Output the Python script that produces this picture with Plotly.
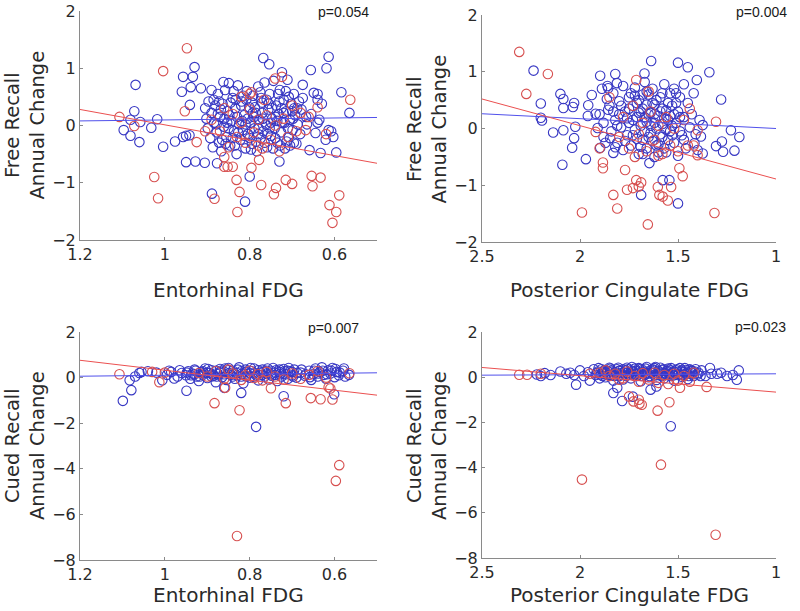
import plotly.graph_objects as go

# ---------------- data ----------------
# Panel A: Entorhinal FDG vs Free Recall annual change
ent_free_blue = [
    (1.069,0.71),(1.072,0.25),(1.081,0.10),(1.058,0.06),(1.097,-0.08),(1.081,-0.18),(1.060,-0.29),
    (1.032,-0.04),(1.018,0.11),(1.004,-0.37),(0.976,-0.28),(0.957,-0.20),(0.950,-0.18),(0.942,-0.17),
    (0.950,-0.64),(0.906,-0.65),(0.930,1.02),(0.957,0.85),(0.934,0.85),(0.939,0.67),(0.960,0.59),
    (0.915,0.65),(0.941,0.36),(0.890,0.62),(0.862,0.76),(0.889,-1.19),(0.877,-0.66),(0.928,-0.63),
    (0.811,-1.33),(0.800,-0.89),
    (0.905,0.30),(0.902,0.12),(0.899,-0.05),(0.897,0.42),(0.893,-0.22),(0.890,0.22),(0.887,-0.38),
    (0.884,0.05),(0.881,0.35),(0.878,-0.12),(0.875,0.55),(0.872,-0.30),(0.870,0.15),(0.867,-0.45),
    (0.864,0.38),(0.861,-0.02),(0.858,0.62),(0.855,-0.20),(0.852,0.25),(0.849,0.74),(0.846,-0.35),
    (0.843,0.08),(0.840,0.48),(0.837,-0.10),(0.834,0.30),(0.831,-0.50),(0.828,0.70),(0.825,0.02),
    (0.822,-0.25),(0.819,0.42),(0.816,-0.08),(0.813,0.18),(0.810,-0.40),(0.807,0.60),(0.804,-0.15),
    (0.801,0.32),(0.798,0.05),(0.795,-0.32),(0.792,0.52),(0.789,-0.05),(0.786,0.22),(0.783,-0.45),
    (0.780,0.68),(0.777,0.10),(0.774,-0.22),(0.771,0.40),(0.768,-0.10),(0.765,0.75),(0.762,0.02),
    (0.759,-0.38),(0.756,0.28),(0.753,0.55),(0.750,-0.18),(0.747,0.12),(0.744,0.78),(0.741,-0.05),
    (0.738,0.35),(0.735,-0.30),(0.732,0.20),(0.729,0.62),(0.726,-0.12),(0.723,0.05),(0.720,0.45),
    (0.717,-0.40),(0.714,0.25),(0.711,0.80),(0.708,-0.20),(0.705,0.10),(0.702,0.38),(0.699,-0.08),
    (0.696,0.55),(0.693,0.18),(0.690,-0.32),(0.687,0.02),(0.684,0.42),(0.681,-0.15),(0.678,0.28),
    (0.675,0.48),
    (0.860,0.12),(0.850,-0.05),(0.840,-0.22),(0.830,0.15),(0.820,0.35),(0.810,0.02),(0.800,-0.22),
    (0.790,0.15),(0.780,-0.15),(0.770,0.22),(0.760,0.45),(0.750,0.05),(0.740,-0.22),(0.730,0.42),
    (0.720,0.22),(0.710,-0.05),(0.700,0.25),(0.875,0.20),(0.865,-0.25),(0.845,0.40),(0.835,-0.35),
    (0.815,0.52),(0.805,0.12),(0.795,0.40),(0.785,-0.28),(0.775,0.58),(0.765,-0.30),(0.755,0.38),
    (0.745,-0.40),(0.735,0.08),(0.725,0.30),(0.715,0.60),(0.705,-0.35),(0.695,0.30),
    (0.885,0.45),(0.878,0.02),(0.868,0.28),(0.857,-0.32),(0.848,0.18),(0.838,0.60),(0.827,-0.12),
    (0.818,0.08),(0.808,0.45),(0.797,-0.42),(0.788,0.32),(0.779,-0.05),(0.769,0.12),(0.758,-0.15),
    (0.748,0.30),(0.739,0.15),(0.728,-0.35),(0.718,0.05),(0.708,0.50),(0.698,0.12),(0.688,0.30),
    (0.872,0.42),(0.853,0.05),(0.833,0.45),(0.812,-0.18),(0.793,0.22),(0.773,0.48),(0.753,-0.05),
    (0.733,0.55),(0.713,-0.28),
    (0.768,1.18),(0.754,1.07),(0.614,1.20),(0.619,1.00),(0.656,0.97),(0.724,0.93),(0.675,0.71),
    (0.649,0.57),(0.640,0.55),(0.630,0.38),(0.584,0.58),(0.565,0.22),(0.614,-0.08),(0.608,-0.10),
    (0.603,-0.20),(0.596,-0.47),(0.633,-0.48),(0.659,-0.43),(0.645,-0.13),(0.621,-0.25),(0.730,-0.63),
    (0.696,-0.30),(0.665,0.02),(0.655,0.20),(0.640,0.05),(0.667,0.15),(0.636,0.10),(0.640,0.45),
]
ent_free_red = [
    (0.948,1.35),(1.004,0.95),(1.107,0.15),(1.072,-0.01),(1.025,-0.90),(1.016,-1.27),(0.953,0.25),
    (0.925,-0.29),(0.860,-0.72),(0.883,-1.28),(0.563,0.45),(0.589,-1.22),(0.612,-1.39),(0.596,-1.51),
    (0.605,-1.70),(0.654,-0.88),(0.633,-0.91),(0.652,-1.06),(0.700,-1.02),(0.715,-0.95),(0.738,-1.09),
    (0.743,-1.20),(0.773,-1.04),(0.829,-1.51),(0.824,-1.16),(0.831,-0.95),(0.852,-0.72),(0.840,-0.72),
    (0.796,-0.74),(0.778,-0.60),(0.724,0.85),(0.740,0.82),(0.661,0.15),(0.668,-0.08),(0.766,0.45),
    (0.796,0.58),
    (0.890,0.10),(0.870,-0.10),(0.860,0.30),(0.850,-0.38),(0.840,0.20),(0.830,-0.20),(0.820,0.05),
    (0.810,-0.30),(0.800,0.28),(0.790,-0.12),(0.780,0.10),(0.770,-0.40),(0.760,0.18),(0.750,-0.25),
    (0.740,0.00),(0.730,-0.45),(0.720,0.12),(0.710,-0.20),(0.700,0.35),(0.690,-0.10),(0.800,0.55),
    (0.820,0.50),(0.860,-0.55),(0.780,-0.35),(0.680,0.22),(0.640,0.32),(0.620,-0.15),(0.905,-0.10),
]

# Panel B: Posterior Cingulate FDG vs Free Recall annual change
pcc_free_blue = [
    (2.237,1.02),(2.200,0.44),(2.200,0.19),(2.194,0.14),(2.137,-0.07),(2.100,0.61),(2.085,0.52),
    (2.085,0.36),(2.030,0.45),(2.036,0.38),(2.085,-0.03),(2.024,0.03),(2.030,-0.17),(2.040,-0.34),
    (2.090,-0.64),(1.970,-0.54),(1.958,0.41),(1.940,0.59),(1.920,0.26),(1.960,0.22),(1.897,0.93),
    (1.888,0.70),(1.856,0.71),(1.820,0.96),(1.812,0.80),(1.863,0.52),(1.856,0.33),(1.910,0.01),
    (1.880,-0.15),(1.897,-0.34),(1.846,-0.17),(1.820,-0.33),(1.830,-0.43),
    (1.637,1.19),(1.500,1.16),(1.450,1.08),(1.340,0.99),(1.404,0.855),(1.280,0.51),(1.671,0.97),
    (1.230,-0.03),(1.187,-0.15),(1.276,-0.23),(1.212,-0.39),(1.270,-0.41),(1.306,-0.31),
    (1.500,-1.32),(1.688,-1.17),(1.578,-0.91),(1.544,-0.91),(1.646,-0.61),
    (1.390,0.15),(1.374,0.06),(1.383,-0.14),(1.374,-0.44),(1.400,-0.38),(1.416,-0.26),
    (1.850,0.40),(1.840,-0.05),(1.830,0.62),(1.820,0.15),(1.810,-0.25),(1.800,0.48),(1.790,0.02),
    (1.780,0.75),(1.780,-0.38),(1.770,0.30),(1.760,-0.12),(1.750,0.55),(1.750,0.10),(1.740,-0.30),
    (1.730,0.40),(1.720,-0.02),(1.720,0.72),(1.710,0.20),(1.700,-0.45),(1.700,0.50),(1.690,0.05),
    (1.680,-0.20),(1.680,0.35),(1.670,0.82),(1.660,0.12),(1.660,-0.35),(1.650,0.60),(1.640,-0.08),
    (1.640,0.28),(1.630,0.70),(1.620,-0.50),(1.620,0.42),(1.610,0.00),(1.600,0.22),(1.600,-0.28),
    (1.590,0.55),(1.580,0.08),(1.580,-0.15),(1.570,0.78),(1.560,0.32),(1.560,-0.42),(1.550,0.15),
    (1.540,0.62),(1.540,-0.05),(1.530,0.40),(1.520,-0.25),(1.520,0.70),(1.510,0.10),(1.500,-0.48),
    (1.500,0.30),(1.490,0.55),(1.480,-0.12),(1.470,0.20),(1.470,0.78),(1.460,-0.35),(1.450,0.45),
    (1.440,0.02),(1.430,0.25),(1.420,0.62),(1.410,-0.10),
    (1.800,0.25),(1.760,0.18),(1.740,0.62),(1.710,-0.18),(1.690,0.30),(1.670,-0.05),(1.650,0.25),
    (1.630,-0.22),(1.610,0.50),(1.590,-0.10),(1.570,0.18),(1.550,-0.20),(1.530,0.05),(1.510,0.45),
    (1.490,-0.05),(1.730,0.15),(1.660,0.42),(1.620,0.10),(1.580,0.35),(1.560,-0.02),(1.520,0.25),
    (1.640,0.05),(1.700,0.28),(1.600,-0.42),(1.680,0.60),(1.880,0.10),(1.870,-0.25),(1.860,0.75),
    (1.900,0.25),
    (1.830,0.30),(1.810,0.05),(1.790,0.40),(1.770,-0.22),(1.750,0.35),(1.730,-0.12),(1.710,0.45),
    (1.690,-0.32),(1.670,0.20),(1.650,-0.15),(1.630,0.45),(1.610,-0.30),(1.590,0.30),(1.570,-0.35),
    (1.550,0.45),(1.530,-0.12),(1.510,0.62),(1.490,0.20),(1.470,-0.20),(1.720,0.58),(1.660,0.65),
    (1.580,0.62),(1.540,0.22),(1.620,0.25),(1.680,-0.45),
]
pcc_free_red = [
    (2.310,1.35),(2.164,0.96),(2.274,0.61),(1.883,-0.60),(1.883,-0.70),(1.830,-1.17),(1.810,-1.41),
    (1.990,-1.48),(1.920,-0.06),(1.900,-0.35),(1.760,-1.08),(1.770,-0.73),(1.306,0.12),(1.314,-1.49),
    (1.654,-1.69),(1.713,-0.91),(1.688,-0.95),(1.730,-1.05),(1.700,-1.02),(1.603,-1.03),(1.595,-1.17),
    (1.552,-1.27),(1.535,-1.03),(1.578,-1.20),(1.493,-0.70),(1.476,-0.84),(1.420,-0.30),(1.400,-0.47),
    (1.400,-0.03),(1.713,0.855),(1.850,0.55),
    (1.800,-0.15),(1.780,0.20),(1.750,-0.35),(1.730,0.40),(1.700,-0.10),(1.680,0.10),(1.660,-0.40),
    (1.640,0.30),(1.620,-0.20),(1.600,0.05),(1.580,-0.45),(1.560,0.20),(1.540,-0.30),(1.520,0.00),
    (1.500,-0.40),(1.470,0.15),(1.450,-0.30),(1.440,0.35),(1.650,0.65),(1.600,-0.48),(1.720,-0.50),
]

# Panel C: Entorhinal FDG vs Cued Recall annual change
ent_cued_blue = [
    (1.099,-1.02),(1.079,-0.55),(1.083,-0.12),(1.070,0.05),(1.060,0.20),(1.055,0.25),(1.040,0.28),
    (1.006,-0.12),(0.978,-0.04),(0.949,-0.58),(1.020,0.22),(0.990,0.30),
    (0.785,-2.16),(0.820,-0.67),(0.720,-0.82),(0.601,-0.73),(0.860,-0.45),
    (0.950,0.10),(0.945,0.28),(0.940,-0.05),(0.935,0.18),(0.930,0.35),(0.925,0.05),(0.920,-0.15),
    (0.915,0.25),(0.910,0.12),(0.905,0.40),(0.900,-0.02),(0.895,0.20),(0.890,0.32),(0.885,0.08),
    (0.880,-0.20),(0.875,0.15),(0.870,0.38),(0.865,0.02),(0.860,0.25),(0.855,-0.10),(0.850,0.42),
    (0.845,0.12),(0.840,0.30),(0.835,-0.05),(0.830,0.20),(0.825,0.45),(0.820,0.05),(0.815,-0.25),
    (0.810,0.35),(0.805,0.15),(0.800,0.00),(0.795,0.28),(0.790,0.40),(0.785,0.10),(0.780,-0.12),
    (0.775,0.22),(0.770,0.35),(0.765,0.05),(0.760,0.18),(0.755,-0.08),(0.750,0.30),(0.745,0.42),
    (0.740,0.12),(0.735,-0.15),(0.730,0.25),(0.725,0.05),(0.720,0.38),(0.715,0.15),(0.710,-0.05),
    (0.705,0.28),(0.700,0.10),(0.695,0.35),(0.690,0.00),(0.680,0.22),(0.670,0.08),(0.660,0.30),
    (0.655,-0.10),(0.650,0.15),(0.645,0.40),(0.640,0.05),(0.635,0.25),(0.630,0.45),(0.625,0.12),
    (0.620,-0.05),(0.615,0.32),(0.610,0.18),(0.605,0.42),(0.600,0.02),(0.595,0.25),(0.590,0.10),
    (0.580,0.30),(0.575,0.05),
    (0.900,0.22),(0.880,0.30),(0.860,0.15),(0.840,0.05),(0.820,0.28),(0.800,0.20),(0.780,0.32),
    (0.760,0.30),(0.740,0.22),(0.720,0.18),(0.700,0.25),(0.830,0.10),(0.810,0.25),(0.790,0.05),
    (0.770,0.12),(0.750,0.15),(0.730,0.35),(0.710,0.30),(0.870,0.22),(0.850,0.32),(0.890,0.05),
    (0.910,0.28),(0.930,0.15),(0.960,0.20),(0.970,0.05),
    (0.948,0.22),(0.938,0.10),(0.928,0.30),(0.918,0.05),(0.908,0.20),(0.898,0.38),(0.888,0.15),
    (0.878,0.05),(0.868,0.30),(0.858,0.40),(0.848,0.20),(0.838,0.15),(0.828,0.35),(0.818,0.18),
    (0.808,0.05),(0.798,0.42),(0.788,0.20),(0.778,0.10),(0.768,0.25),(0.758,0.40),(0.748,0.08),
    (0.738,0.32),(0.728,0.15),(0.718,0.28),(0.708,0.42),(0.698,0.05),(0.688,0.20),(0.678,0.35),
    (0.668,0.15),(0.658,0.02),(0.648,0.30),(0.638,0.18),(0.628,0.30),(0.618,0.15),(0.608,0.30),
    (0.598,0.38),(0.588,0.22),(0.578,0.40),(0.566,0.12),(0.995,0.12),(0.985,0.25),(0.965,0.32),
]
ent_cued_red = [
    (0.830,-6.95),(0.597,-4.53),(0.589,-3.84),(0.824,-1.43),(0.883,-1.12),(0.858,-0.44),(0.750,-0.47),
    (0.715,-1.12),(0.656,-0.90),(0.633,-0.95),(0.605,-0.96),(0.614,-0.42),(0.610,-0.48),(1.013,-0.20),
    (1.107,0.15),(0.565,0.19),(1.030,0.25),(1.000,0.22),
    (0.920,0.20),(0.900,0.05),(0.880,0.28),(0.860,-0.05),(0.840,0.18),(0.820,-0.10),(0.800,0.30),
    (0.790,-0.02),(0.780,0.15),(0.770,-0.12),(0.760,0.25),(0.740,0.05),(0.720,-0.08),(0.700,0.18),
    (0.680,-0.05),(0.660,0.12),(0.640,0.28),(0.620,0.00),(0.850,0.35),(0.810,0.10),
]

# Panel D: Posterior Cingulate FDG vs Cued Recall annual change
pcc_cued_blue = [
    (1.537,-2.17),(1.785,-1.05),(1.830,-0.70),(1.810,-0.47),(1.730,-0.86),(1.640,-0.55),(1.610,-0.41),
    (1.200,-0.11),(1.190,0.30),(1.280,0.20),(1.337,0.41),(2.020,-0.33),
    (2.220,0.12),(2.200,0.05),(2.180,0.18),(2.150,0.10),(2.100,0.25),(2.070,0.15),(2.050,0.20),
    (2.030,0.10),(2.000,0.30),(1.980,0.05),(1.960,0.22),(1.950,-0.15),(1.930,0.35),
    (1.330,0.15),(1.300,0.15),(1.250,0.05),(1.220,0.10),(1.360,0.05),(1.380,0.30),
    (1.920,0.10),(1.910,0.25),(1.900,-0.05),(1.890,0.35),(1.880,0.15),(1.870,0.00),(1.860,0.28),
    (1.850,0.42),(1.840,0.08),(1.830,-0.15),(1.820,0.22),(1.810,0.35),(1.800,0.05),(1.790,0.18),
    (1.780,-0.10),(1.770,0.30),(1.760,0.42),(1.750,0.12),(1.740,-0.05),(1.730,0.25),(1.720,0.38),
    (1.710,0.05),(1.700,0.20),(1.690,-0.18),(1.680,0.32),(1.670,0.10),(1.660,0.45),(1.650,0.00),
    (1.640,0.22),(1.630,0.35),(1.620,0.08),(1.610,-0.12),(1.600,0.28),(1.590,0.42),(1.580,0.12),
    (1.570,-0.05),(1.560,0.25),(1.550,0.38),(1.540,0.05),(1.530,0.18),(1.520,-0.15),(1.510,0.30),
    (1.500,0.10),(1.490,0.40),(1.480,0.02),(1.470,0.22),(1.460,0.32),(1.450,-0.08),(1.440,0.15),
    (1.430,0.28),(1.420,0.05),(1.410,0.35),(1.400,0.12),
    (1.880,0.25),(1.840,0.30),(1.800,0.28),(1.760,0.20),(1.720,0.15),(1.680,0.22),(1.640,0.30),
    (1.600,0.15),(1.560,0.10),(1.520,0.25),(1.480,0.30),(1.440,0.35),(1.780,0.35),(1.700,0.40),
    (1.620,0.40),(1.540,0.30),(1.460,0.15),(1.740,0.30),(1.660,0.20),(1.580,0.32),
    (1.915,0.18),(1.905,0.40),(1.895,0.12),(1.885,0.05),(1.875,0.32),(1.865,0.20),(1.855,0.10),
    (1.845,0.38),(1.835,0.25),(1.825,0.05),(1.815,0.15),(1.805,0.42),(1.795,0.30),(1.785,0.10),
    (1.775,0.20),(1.765,0.05),(1.755,0.35),(1.745,0.18),(1.735,0.45),(1.725,0.08),(1.715,0.28),
    (1.705,0.12),(1.695,0.35),(1.685,0.05),(1.675,0.25),(1.665,0.38),(1.655,0.15),(1.645,0.05),
    (1.635,0.20),(1.625,0.30),(1.615,0.45),(1.605,0.10),(1.595,0.20),(1.585,0.05),(1.575,0.35),
    (1.565,0.18),(1.555,0.28),(1.545,0.12),(1.535,0.40),(1.525,0.08),(1.515,0.22),(1.505,0.35),
    (1.495,0.15),(1.485,0.25),(1.475,0.10),(1.465,0.40),(1.455,0.20),(1.445,0.05),(1.435,0.30),
    (1.425,0.18),(1.415,0.25),(1.395,0.20),(1.385,0.05),
]
pcc_cued_red = [
    (1.308,-6.97),(1.990,-4.53),(1.587,-3.87),(1.604,-1.48),(1.544,-1.11),(1.685,-1.22),(1.700,-1.00),
    (1.727,-1.07),(1.697,-1.17),(1.750,-0.85),(1.800,-0.11),(1.490,-0.47),(1.354,-0.43),(2.310,0.11),
    (2.270,0.11),(2.200,0.15),
    (1.900,0.20),(1.870,0.30),(1.850,0.05),(1.820,0.15),(1.780,-0.05),(1.760,0.25),(1.720,0.05),
    (1.700,-0.20),(1.680,0.18),(1.650,-0.10),(1.620,0.20),(1.600,-0.25),(1.570,0.10),(1.550,-0.30),
    (1.520,0.15),(1.500,-0.15),(1.470,0.05),(1.440,-0.20),(1.420,0.20),(1.950,0.15),
]

# regression lines (end points)
ent_fit_x = [1.2, 0.5]
pcc_fit_x = [2.5, 1.0]
ent_free_fit = {"red": [0.28, -0.66], "blue": [0.08, 0.14]}
pcc_free_fit = {"red": [0.52, -0.89], "blue": [0.26, 0.00]}
ent_cued_fit = {"red": [0.76, -0.77], "blue": [0.06, 0.21]}
pcc_cued_fit = {"red": [0.43, -0.66], "blue": [0.09, 0.15]}

p_values = ["p=0.054", "p=0.004", "p=0.007", "p=0.023"]
x_titles = ["Entorhinal FDG", "Posterior Cingulate FDG", "Entorhinal FDG", "Posterior Cingulate FDG"]
y_titles = ["Free Recall<br>Annual Change", "Free Recall<br>Annual Change",
            "Cued Recall<br>Annual Change", "Cued Recall<br>Annual Change"]
ent_ticks = [1.2, 1.0, 0.8, 0.6]
ent_ticktext = ["1.2", "1", "0.8", "0.6"]
pcc_ticks = [2.5, 2.0, 1.5, 1.0]
pcc_ticktext = ["2.5", "2", "1.5", "1"]
free_ticks = [-2, -1, 0, 1, 2]
cued_ticks = [-8, -6, -4, -2, 0, 2]

# ---------------- figure ----------------
W, H = 800, 611
BLUE_M = "rgb(55,55,195)"
RED_M = "rgb(215,80,80)"
BLUE_L = "rgb(80,80,235)"
RED_L = "rgb(235,80,80)"
FONT = "DejaVu Sans"

# pixel boxes (left, right, top, bottom) of each axes
boxes = [(80, 377, 11, 240), (482, 776, 15, 242), (80, 377, 332, 560), (482, 776, 332, 558)]

panels = [
    (ent_free_blue, ent_free_red, ent_fit_x, ent_free_fit, [1.2, 0.5], [-2, 2], ent_ticks, ent_ticktext, free_ticks),
    (pcc_free_blue, pcc_free_red, pcc_fit_x, pcc_free_fit, [2.5, 1.0], [-2, 2], pcc_ticks, pcc_ticktext, free_ticks),
    (ent_cued_blue, ent_cued_red, ent_fit_x, ent_cued_fit, [1.2, 0.5], [-8, 2], ent_ticks, ent_ticktext, cued_ticks),
    (pcc_cued_blue, pcc_cued_red, pcc_fit_x, pcc_cued_fit, [2.5, 1.0], [-8, 2], pcc_ticks, pcc_ticktext, cued_ticks),
]

fig = go.Figure()
layout = {}
annotations = []
ptext_px = [(371, 12), (789, 12), (361, 328), (788, 327)]
ytitle_px = [25, 427, 25, 427]
xtitle_py = [290, 290, 595, 595]

for i, (blue, red, fx, fit, xr, yr, xt, xtt, yt) in enumerate(panels):
    n = "" if i == 0 else str(i + 1)
    xa, ya = "x" + n, "y" + n
    l, r, t, b = boxes[i]
    for pts, col in ((blue, BLUE_M), (red, RED_M)):
        fig.add_trace(go.Scatter(
            x=[p[0] for p in pts], y=[p[1] for p in pts], mode="markers",
            marker=dict(symbol="circle-open", size=9.5, color=col, line=dict(width=1.1, color=col)),
            xaxis=xa, yaxis=ya, showlegend=False, hoverinfo="skip"))
    fig.add_trace(go.Scatter(x=fx, y=fit["blue"], mode="lines", line=dict(color=BLUE_L, width=1),
                             xaxis=xa, yaxis=ya, showlegend=False, hoverinfo="skip"))
    fig.add_trace(go.Scatter(x=fx, y=fit["red"], mode="lines", line=dict(color=RED_L, width=1),
                             xaxis=xa, yaxis=ya, showlegend=False, hoverinfo="skip"))
    common = dict(showgrid=False, zeroline=False, showline=True, linecolor="#8a8a8a", linewidth=1,
                  ticks="inside", ticklen=3, tickcolor="#8a8a8a", automargin=False,
                  tickfont=dict(family=FONT, size=16, color="#2a2a2a"))
    layout["xaxis" + n] = dict(domain=[l / W, r / W], range=xr, anchor=ya,
                               tickvals=xt, ticktext=xtt, **common)
    layout["yaxis" + n] = dict(domain=[1 - b / H, 1 - t / H], range=yr, anchor=xa,
                               tickvals=yt, **common)
    px, py = ptext_px[i]
    annotations.append(dict(text=p_values[i], x=px / W, y=1 - py / H, xref="paper", yref="paper",
                            xanchor="right", yanchor="middle", showarrow=False,
                            font=dict(family="Liberation Sans", size=14, color="#1a1a1a")))
    annotations.append(dict(text=y_titles[i], x=ytitle_px[i] / W, y=1 - ((t + b) / 2) / H,
                            xref="paper", yref="paper", xanchor="center", yanchor="middle",
                            textangle=-90, showarrow=False,
                            font=dict(family=FONT, size=19.5, color="#2a2a2a")))
    annotations.append(dict(text=x_titles[i], x=((l + r) / 2) / W, y=1 - xtitle_py[i] / H,
                            xref="paper", yref="paper", xanchor="center", yanchor="middle",
                            showarrow=False, font=dict(family=FONT, size=20, color="#2a2a2a")))

fig.update_layout(width=W, height=H, margin=dict(l=0, r=0, t=0, b=0, autoexpand=False),
                  paper_bgcolor="white", plot_bgcolor="white", hovermode=False,
                  annotations=annotations, **layout)
fig.write_html("out.html", config={"displayModeBar": False},
               post_script="document.body.style.margin='0';document.body.style.overflow='hidden';")
